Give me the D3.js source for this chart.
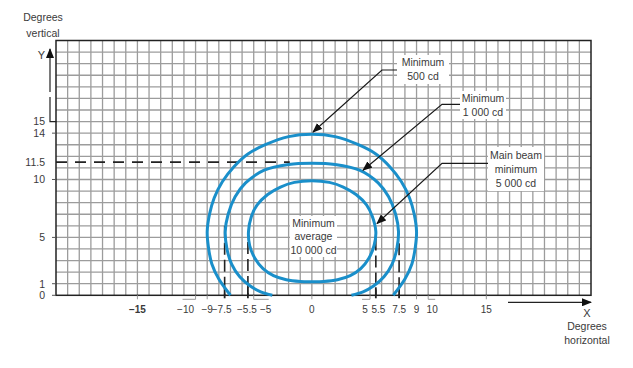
<!DOCTYPE html>
<html>
<head>
<meta charset="utf-8">
<script src="https://cdn.jsdelivr.net/npm/d3@7"></script>
<style>
  body { margin: 0; background: #fff; }
  text { font-family: "Liberation Sans", Arial, sans-serif; fill: #3a3a3a; }
</style>
</head>
<body>
<div id="chart"></div>
<script>
// tick values and labels
const xTicks = [-15, -10, -9, -7.5, -5.5, -5, 0, 5, 5.5, 7.5, 9, 10, 15];
const xTickLabels = ["\u221215", "\u221210", "\u22129", "\u22127.5", "\u22125.5", "\u22125", "0", "5", "5.5", "7.5", "9", "10", "15"];
const yTicks = [0, 1, 5, 10, 11.5, 14, 15];
const yTickLabels = ["0", "1", "5", "10", "11.5", "14", "15"];

// isocandela curves (degrees)
const curve500 = [[-7.0, 0], [-8.0, 1.4], [-8.6, 2.7], [-8.9, 4.2], [-9.0, 5.5], [-8.8, 7.0], [-8.4, 8.4], [-7.7, 9.8],
  [-6.7, 11.1], [-5.5, 12.2], [-4.0, 13.0], [-2.0, 13.7], [0, 13.9],
  [2.0, 13.7], [4.0, 13.0], [5.5, 12.2], [6.7, 11.1], [7.7, 9.8], [8.4, 8.4], [8.8, 7.0], [9.0, 5.5],
  [8.9, 4.2], [8.6, 2.7], [8.0, 1.4], [7.0, 0]];
const curve1000 = [[-3.4, 0], [-4.4, 0.3], [-5.3, 0.8], [-6.2, 1.6], [-6.9, 2.7], [-7.3, 4.0], [-7.45, 5.5], [-7.2, 7.0],
  [-6.6, 8.5], [-5.7, 9.7], [-4.1, 10.8], [-2.0, 11.3], [0, 11.4],
  [2.0, 11.3], [4.1, 10.8], [5.7, 9.7], [6.6, 8.5], [7.2, 7.0], [7.45, 5.5], [7.3, 4.0], [6.9, 2.7],
  [6.2, 1.6], [5.3, 0.8], [4.4, 0.3], [3.4, 0]];
const curveMainBeam = [[0, 9.9], [1.5, 9.75], [2.7, 9.35], [3.8, 8.7], [4.7, 7.8], [5.2, 6.8], [5.5, 5.5], [5.35, 4.3],
  [4.9, 3.2], [4.2, 2.3], [3.3, 1.7], [2.2, 1.35], [1.0, 1.2], [0, 1.18],
  [-1.0, 1.2], [-2.2, 1.35], [-3.3, 1.7], [-4.2, 2.3], [-4.9, 3.2], [-5.35, 4.3], [-5.45, 5.5], [-5.2, 6.8],
  [-4.7, 7.8], [-3.8, 8.7], [-2.7, 9.35], [-1.5, 9.75]];

// dashed guide lines
const guideX = [-7.5, -5.5, 5.5, 7.5];
const guideXTop = [6.0, 4.6, 4.9, 4.5];
const guideY = 11.5;
const guideYEnd = -1.9;

// callouts
const calloutTexts = [["Minimum", "500 cd"], ["Minimum", "1 000 cd"], ["Main beam", "minimum", "5 000 cd"]];
const calloutTips = [[0.1, 14.1], [4.4, 10.8], [5.6, 6.2]];
const centreText = ["Minimum", "average", "10 000 cd"];

const W = 633, H = 368;
const svg = d3.select("#chart").append("svg")
  .attr("width", W)
  .attr("height", H);

const x = d3.scaleLinear().domain([-22, 24]).range([56, 591]);
const y = d3.scaleLinear().domain([0, 22]).range([295.3, 40.5]);

const defs = svg.append("defs");
defs.append("marker")
  .attr("id", "arr")
  .attr("markerUnits", "userSpaceOnUse")
  .attr("markerWidth", 10).attr("markerHeight", 8)
  .attr("refX", 9).attr("refY", 4)
  .attr("orient", "auto")
  .append("path")
  .attr("d", "M0,0 L10,4 L0,8 Z")
  .attr("fill", "#111");

// grid
const grid = svg.append("g");
grid.selectAll(".gx").data(d3.range(-21, 24)).enter().append("line")
  .attr("x1", d => x(d)).attr("x2", d => x(d))
  .attr("y1", y(0)).attr("y2", y(22))
  .attr("stroke", "#9c9c9c").attr("stroke-width", 1.3);
grid.selectAll(".gy").data(d3.range(1, 22)).enter().append("line")
  .attr("x1", x(-22)).attr("x2", x(24))
  .attr("y1", d => y(d)).attr("y2", d => y(d))
  .attr("stroke", "#9c9c9c").attr("stroke-width", 1.3);
grid.append("rect")
  .attr("x", x(-22)).attr("y", y(22))
  .attr("width", x(24) - x(-22)).attr("height", y(0) - y(22))
  .attr("fill", "none").attr("stroke", "#222").attr("stroke-width", 1.5);

// y ticks
svg.selectAll(".yt").data(yTicks.filter(d => d !== 15 && d !== 11.5)).enter().append("line")
  .attr("x1", x(-22) - 4).attr("x2", x(-22))
  .attr("y1", d => y(d)).attr("y2", d => y(d))
  .attr("stroke", "#555").attr("stroke-width", 1);
svg.selectAll(".yl").data(yTicks).enter().append("text")
  .attr("x", 45)
  .attr("y", d => y(d) + 3.8)
  .attr("text-anchor", "end")
  .attr("font-size", "10.5px")
  .text((d, i) => yTickLabels[i]);

// y axis arrow (with the small break seen in the original)
svg.append("path")
  .attr("d", "M" + (x(-22) + 0.5) + "," + y(15) + " H50 V97")
  .attr("fill", "none").attr("stroke", "#222").attr("stroke-width", 1.2);
svg.append("line")
  .attr("x1", 50).attr("x2", 50).attr("y1", 92).attr("y2", 49)
  .attr("stroke", "#222").attr("stroke-width", 1.2)
  .attr("marker-end", "url(#arr)");
svg.append("text").attr("x", 45).attr("y", 59).attr("text-anchor", "end").attr("font-size", "11px").text("Y");
svg.append("text").attr("x", 43).attr("y", 21).attr("text-anchor", "middle").attr("font-size", "10.5px").text("Degrees");
svg.append("text").attr("x", 43).attr("y", 37).attr("text-anchor", "middle").attr("font-size", "10.5px").text("vertical");

// x tick labels (crowded ones nudged, with small leaders back to the tick)
const nudge = { "-10": -10, "-7.5": -3, "-5.5": -1, "-5": 12, "5": -5, "5.5": 2.5, "10": 4 };
const xl = svg.append("g");
xTicks.forEach((d, i) => {
  const dx = nudge[d] || 0;
  const px = x(d);
  xl.append("text")
    .attr("x", px + dx)
    .attr("y", y(0) + 17.5)
    .attr("text-anchor", "middle")
    .attr("font-size", "10px")
    .attr("font-weight", d === -15 ? "bold" : null)
    .attr("fill", d === -15 ? "#111" : "#444")
    .text(xTickLabels[i]);
  if (guideX.includes(d)) return;
  if (Math.abs(dx) > 3) {
    xl.append("path")
      .attr("d", "M" + px + "," + y(0) + " V" + (y(0) + 4) + " H" + (px + dx + (dx > 0 ? 3 : -3)))
      .attr("fill", "none").attr("stroke", "#999").attr("stroke-width", 1);
  } else {
    xl.append("line")
      .attr("x1", px).attr("x2", px)
      .attr("y1", y(0)).attr("y2", y(0) + 4)
      .attr("stroke", "#999").attr("stroke-width", 1);
  }
});

// x axis arrow
svg.append("line")
  .attr("x1", 508).attr("x2", x(24))
  .attr("y1", y(0) + 7).attr("y2", y(0) + 7)
  .attr("stroke", "#222").attr("stroke-width", 1.2)
  .attr("marker-end", "url(#arr)");
svg.append("text").attr("x", 587).attr("y", 317).attr("text-anchor", "middle").attr("font-size", "11px").text("X");
svg.append("text").attr("x", 587).attr("y", 330).attr("text-anchor", "middle").attr("font-size", "10.5px").text("Degrees");
svg.append("text").attr("x", 587).attr("y", 344).attr("text-anchor", "middle").attr("font-size", "10.5px").text("horizontal");

// dashed guides
svg.append("line")
  .attr("x1", x(-22)).attr("x2", x(guideYEnd))
  .attr("y1", y(guideY)).attr("y2", y(guideY))
  .attr("stroke", "#222").attr("stroke-width", 1.6)
  .attr("stroke-dasharray", "11,8");
guideX.forEach((d, i) => {
  svg.append("line")
    .attr("x1", x(d)).attr("x2", x(d))
    .attr("y1", y(guideXTop[i])).attr("y2", y(0))
    .attr("stroke", "#222").attr("stroke-width", 1.6)
    .attr("stroke-dasharray", "12,5");
  svg.append("line")
    .attr("x1", x(d)).attr("x2", x(d))
    .attr("y1", y(0) - 8).attr("y2", y(0) + 3)
    .attr("stroke", "#222").attr("stroke-width", 1.8);
});

// curves
const line = d3.line().x(d => x(d[0])).y(d => y(d[1]));
const blue = "#1a8fca";
[curve500, curve1000].forEach(c => {
  svg.append("path")
    .attr("d", line.curve(d3.curveCatmullRom.alpha(0.5))(c))
    .attr("fill", "none").attr("stroke", blue).attr("stroke-width", 3);
});
svg.append("path")
  .attr("d", line.curve(d3.curveCatmullRomClosed.alpha(0.5))(curveMainBeam))
  .attr("fill", "none").attr("stroke", blue).attr("stroke-width", 3);

// callouts: box [x, y, w, h], elbow [x, y]
const boxes = [[397, 55, 52, 29], [460, 91, 46, 28], [488, 147, 56, 44]];
const elbows = [[382, 70], [442, 104.3], [442, 163.3]];
calloutTexts.forEach((lines, i) => {
  const b = boxes[i], e = elbows[i], t = calloutTips[i];
  svg.append("path")
    .attr("d", "M" + b[0] + "," + e[1] + " H" + e[0] + " L" + x(t[0]) + "," + y(t[1]))
    .attr("fill", "none").attr("stroke", "#1a1a1a").attr("stroke-width", 1.2)
    .attr("marker-end", "url(#arr)");
  svg.append("rect")
    .attr("x", b[0]).attr("y", b[1]).attr("width", b[2]).attr("height", b[3])
    .attr("fill", "#fff");
  const lh = 14.3;
  const y0 = b[1] + b[3] / 2 - (lines.length - 1) * lh / 2 + 3.8;
  lines.forEach((s, j) => {
    svg.append("text")
      .attr("x", b[0] + b[2] / 2).attr("y", y0 + j * lh)
      .attr("text-anchor", "middle").attr("font-size", "10.5px")
      .text(s);
  });
});

// centre label
svg.append("rect")
  .attr("x", 290).attr("y", 216).attr("width", 47).attr("height", 41)
  .attr("fill", "#fff");
centreText.forEach((s, j) => {
  svg.append("text")
    .attr("x", 313.5).attr("y", 227 + j * 13.4)
    .attr("text-anchor", "middle").attr("font-size", "10.5px")
    .text(s);
});
</script>
</body>
</html>
